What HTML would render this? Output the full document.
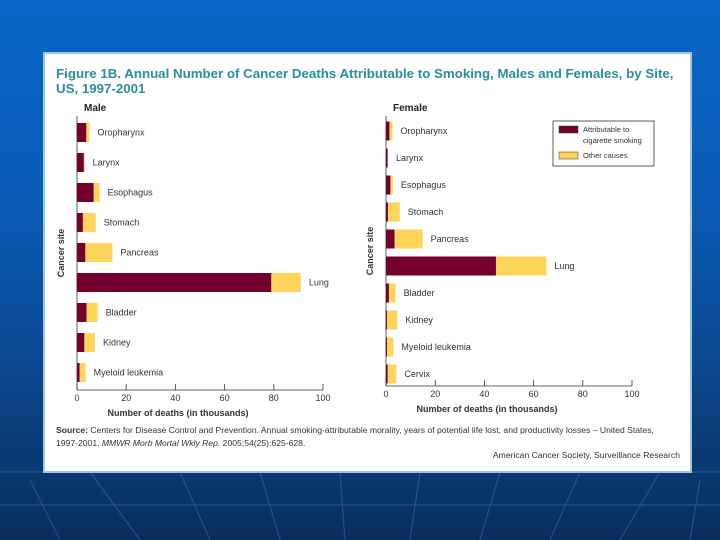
<!DOCTYPE html>
<html><head><meta charset="utf-8"><style>
html,body{margin:0;padding:0;width:720px;height:540px;overflow:hidden;}
body{background:linear-gradient(180deg,#0866c8 0%,#0a5cb8 35%,#0b4a94 65%,#0a2d5c 100%);font-family:"Liberation Sans",sans-serif;position:relative;}
#panel{position:absolute;left:43px;top:52px;width:649px;height:421px;background:#fff;border:2px solid #9cc8d8;box-sizing:border-box;}
</style></head><body>
<svg width="720" height="540" style="position:absolute;left:0;top:0">
<g stroke="#3f7fc0" stroke-width="1.2" opacity="0.45">
<line x1="0" y1="472" x2="720" y2="472"/>
<line x1="0" y1="505" x2="720" y2="505"/>
<line x1="90" y1="472" x2="140" y2="540"/><line x1="180" y1="472" x2="210" y2="540"/>
<line x1="260" y1="472" x2="280" y2="540"/><line x1="340" y1="472" x2="345" y2="540"/>
<line x1="420" y1="472" x2="410" y2="540"/><line x1="500" y1="472" x2="480" y2="540"/>
<line x1="580" y1="472" x2="550" y2="540"/><line x1="660" y1="472" x2="620" y2="540"/>
<line x1="30" y1="480" x2="60" y2="540"/><line x1="700" y1="480" x2="690" y2="540"/>
</g></svg>
<div id="panel"></div>
<svg id="chart" width="720" height="540" style="position:absolute;left:0;top:0" font-family="Liberation Sans, sans-serif">
<text x="56" y="78" font-size="13.3" font-weight="bold" fill="#2a8f9a">Figure 1B. Annual Number of Cancer Deaths Attributable to Smoking, Males and Females, by Site,</text>
<text x="56" y="93" font-size="13.3" font-weight="bold" fill="#2a8f9a">US, 1997-2001</text>
<text x="56" y="433" font-size="8.6" fill="#333"><tspan font-weight="bold">Source:</tspan> Centers for Disease Control and Prevention. Annual smoking-attributable morality, years of potential life lost, and productivity losses – United States,</text>
<text x="56" y="446" font-size="8.6" fill="#333">1997-2001. <tspan font-style="italic">MMWR Morb Mortal Wkly Rep.</tspan> 2005;54(25):625-628.</text>
<text x="680" y="458" font-size="8.6" fill="#333" text-anchor="end">American Cancer Society, Surveillance Research</text>
<g id="legend">
<rect x="553" y="121" width="101" height="45" fill="#fff" stroke="#333" stroke-width="0.8"/>
<rect x="559" y="126" width="19" height="7" fill="#74002c" stroke="#333" stroke-width="0.5"/>
<text x="583" y="132" font-size="7.5" fill="#333">Attributable to</text>
<text x="583" y="143" font-size="7.5" fill="#333">cigarette smoking</text>
<rect x="559" y="152" width="19" height="7" fill="#ffd45a" stroke="#333" stroke-width="0.5"/>
<text x="583" y="158" font-size="7.5" fill="#333">Other causes</text>
</g>
</svg>
<script>
const maleSites=["Oropharynx","Larynx","Esophagus","Stomach","Pancreas","Lung","Bladder","Kidney","Myeloid leukemia"];
const maleSmoking=[3.8,2.8,6.8,2.4,3.4,79,3.9,3,1.1];
const maleTotal=[5.1,3.1,9.2,7.6,14.4,91,8.4,7.3,3.5];
const femaleSites=["Oropharynx","Larynx","Esophagus","Stomach","Pancreas","Lung","Bladder","Kidney","Myeloid leukemia","Cervix"];
const femaleSmoking=[1.4,0.7,1.8,0.8,3.5,44.7,1.2,0.4,0.4,0.7];
const femaleTotal=[2.6,0.8,2.8,5.6,14.9,65.2,3.9,4.6,3,4.2];
const xTicks=[0,20,40,60,80,100];
const NS="http://www.w3.org/2000/svg";
const svg=document.getElementById('chart');
function mk(tag,attrs,parent){const e=document.createElementNS(NS,tag);for(const k in attrs)e.setAttribute(k,attrs[k]);(parent||svg).appendChild(e);return e;}
function panel(o){
  const g=mk('g',{});
  
  
  const xs=v=>o.x0+v*(o.x1-o.x0)/100;
  const yc=i=>o.yFirst+i*o.step;
  const t=mk('text',{x:o.x0+7,y:o.yTop-5,'font-size':10,'font-weight':'bold',fill:'#222'},g);t.textContent=o.title;
  
  
  mk('line',{x1:o.x0,y1:o.yTop,x2:o.x0,y2:o.yBase,stroke:'#333','stroke-width':0.8},g);
  mk('line',{x1:o.x0,y1:o.yBase,x2:o.x1,y2:o.yBase,stroke:'#333','stroke-width':0.8},g);
  xTicks.forEach(v=>{
    mk('line',{x1:xs(v),y1:o.yBase,x2:xs(v),y2:o.yBase-6,stroke:'#333','stroke-width':0.8},g);
    const l=mk('text',{x:xs(v),y:o.yBase+11,'font-size':9,fill:'#333','text-anchor':'middle'},g);l.textContent=v;
    
    
  });
  const xt=mk('text',{x:(o.x0+o.x1)/2-22,y:o.yBase+26,'font-size':9,'font-weight':'bold',fill:'#333','text-anchor':'middle'},g);xt.textContent='Number of deaths (in thousands)';
  
  
  const yt=mk('text',{x:0,y:0,'font-size':9,'font-weight':'bold',fill:'#333','text-anchor':'middle',transform:`translate(${o.x0-13},${(o.yTop+o.yBase)/2}) rotate(-90)`},g);yt.textContent='Cancer site';
  
  
  o.sites.forEach((s,i)=>{
    const y=yc(i)-9.5;
    const b1=mk('rect',{x:xs(0),y:y,width:xs(o.smoke[i])-xs(0),height:19,fill:'#74002c'},g);
    
    
    const b2=mk('rect',{x:xs(o.smoke[i]),y:y,width:Math.max(0,xs(o.total[i])-xs(o.smoke[i])),height:19,fill:'#ffd45a'},g);
    
    
    const l=mk('text',{x:xs(o.total[i])+8,y:yc(i)+3,'font-size':9,fill:'#333'},g);l.textContent=s;
    
    
  });
}
panel({name:'male',title:'Male',sites:maleSites,smoke:maleSmoking,total:maleTotal,x0:77,x1:323,yTop:116,yBase:390,yFirst:132.5,step:30});
panel({name:'female',title:'Female',sites:femaleSites,smoke:femaleSmoking,total:femaleTotal,x0:386,x1:632,yTop:116,yBase:386,yFirst:131,step:27});
</script>
</body></html>
